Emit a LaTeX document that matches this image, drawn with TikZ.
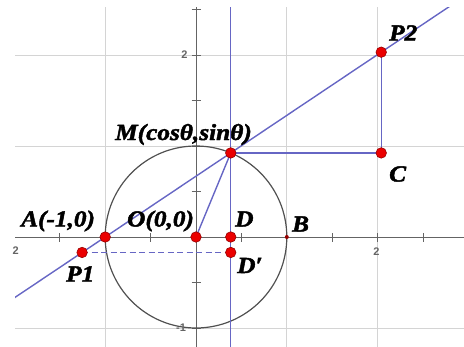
\documentclass[tikz,border=0pt]{standalone}
\usepackage{fontspec}
\setmainfont{Liberation Serif}
\newfontfamily\lblfont[FakeStretch=1.1,BoldItalicFeatures={FakeBold=2}]{Liberation Serif}
\newfontfamily\numfont{Liberation Sans}
\usetikzlibrary{calc}
\definecolor{gridc}{RGB}{212,212,212}
\definecolor{axisc}{RGB}{100,100,100}
\definecolor{linec}{RGB}{102,102,196}
\definecolor{circc}{RGB}{80,80,80}
\definecolor{ptfill}{RGB}{235,0,0}
\definecolor{ptdraw}{RGB}{150,0,0}
\begin{document}
\begin{tikzpicture}[x=1pt,y=-1pt,
  gridline/.style={draw=gridc,line width=1pt},
  axisline/.style={draw=axisc,line width=1pt},
  blueline/.style={draw=linec,line width=1.4pt},
  circline/.style={draw=circc,line width=1.2pt},
  pt/.style={circle,fill=ptfill,draw=ptdraw,line width=0.6pt,minimum size=10.5pt,inner sep=0pt},
  smallpt/.style={circle,fill=ptdraw,minimum size=4pt,inner sep=0pt},
  lbl/.style={anchor=base west,inner sep=0pt,font=\lblfont\bfseries\itshape\fontsize{23}{25}\selectfont},
  num/.style={inner sep=0pt,text=axisc,font=\numfont\bfseries\fontsize{11}{12}\selectfont}]
\useasboundingbox (0,0) rectangle (464,346);
% named points in unit coordinates
\begin{scope}[shift={(196,237)},x=90.8pt,y=91pt]
  \coordinate (O) at (0,0);
  \coordinate (A) at (-1,0);
  \coordinate (B) at (1,0);
  \coordinate (M) at (0.3827,0.9239);
  \coordinate (D) at (0.3827,0);
  \coordinate (Dp) at (0.3827,-0.17);
  \coordinate (P1) at (-1.2544,-0.17);
  \coordinate (P2) at (2.04,2.031);
  \coordinate (C) at (2.04,0.9239);
  \coordinate (Vt) at (0.3827,2.8);
  \coordinate (Vb) at (0.3827,-1.4);
  \coordinate (Lfar) at ($(A)!-0.9!(M)$);
  \coordinate (Rfar) at ($(A)!2.9!(M)$);
\end{scope}
\begin{scope}
  \clip (15,7) rectangle (464,346);
  \begin{scope}[shift={(196,237)},x=90.8pt,y=91pt]
    % grid
    \foreach \g in {-2,-1,1,2} \draw[gridline] (\g,-1.4) -- (\g,2.8);
    \foreach \g in {-1,1,2} \draw[gridline] (-2.3,\g) -- (3.1,\g);
    % axes
    \draw[axisline] (-2.3,0) -- (3.1,0);
    \draw[axisline] (0,-1.4) -- (0,2.8);
    \foreach \t in {-2,-1.5,-1,-0.5,0.5,1,1.5,2,2.5}
      \draw[axisline] (\t,0) ++(0,-4.5pt) -- ++(0,9pt);
    \foreach \t in {-1,-0.5,0.5,1,1.5,2,2.5}
      \draw[axisline] (0,\t) ++(-4.5pt,0) -- ++(9pt,0);
    % circle
    \draw[circline] (O) circle[radius=1];
  \end{scope}
  % blue lines
  \draw[blueline] (Lfar) -- (Rfar);
  \draw[blueline] (Vt) -- (Vb);
  \draw[blueline] (O) -- (M);
  \draw[blueline] (M) -- (C) -- (P2);
  \draw[blueline,dash pattern=on 6pt off 3.5pt] (P1) -- (Dp);
\end{scope}
% axis numbers
\node[num] (n1) at (376.5,251.5) {2};
\node[num] (n2) at (15.7,251) {2};
\node[num] (n3) at (184.5,55) {2};
\node[num] (n4) at (181,328) {-1};
% points
\node[pt] (pA) at (A) {};
\node[pt] (pO) at (O) {};
\node[pt] (pM) at (M) {};
\node[pt] (pD) at (D) {};
\node[pt] (pDp) at (Dp) {};
\node[pt] (pP1) at (P1) {};
\node[pt] (pP2) at (P2) {};
\node[pt] (pC) at (C) {};
\node[smallpt] (pB) at (B) {};
% labels
\node[lbl] (lA) at (21,226.5) {A(-1,0)};
\node[lbl] (lO) at (127,226.5) {O(0,0)};
\node[lbl] (lD) at (235,226.5) {D};
\node[lbl] (lB) at (292,231.5) {B};
\node[lbl] (lDp) at (237,273) {D′};
\node[lbl] (lP1) at (66,281.5) {P1};
\node[lbl] (lC) at (389,181.5) {C};
\node[lbl] (lP2) at (389,40.5) {P2};
\node[lbl] (lM) at (115,140) {M(cosθ,sinθ)};
\end{tikzpicture}
\end{document}
